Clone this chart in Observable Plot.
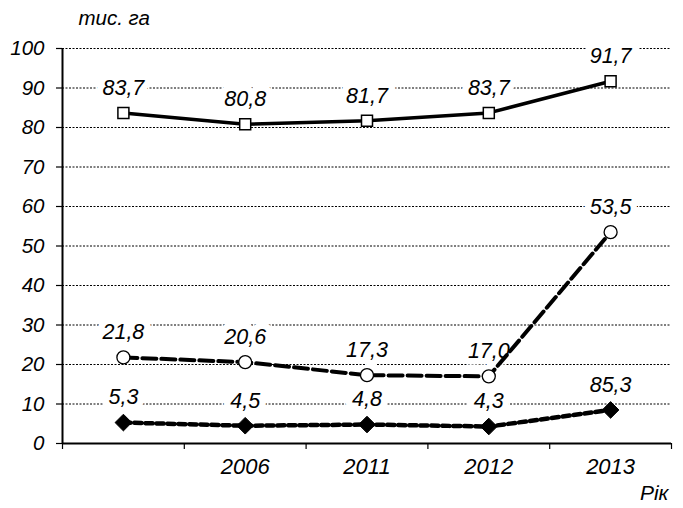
<!DOCTYPE html>
<html>
<head>
<meta charset="utf-8">
<script src="https://cdn.jsdelivr.net/npm/d3@7"></script>
<script src="https://cdn.jsdelivr.net/npm/@observablehq/plot@0.6"></script>
<style>
  html, body { margin: 0; padding: 0; background: white; }
</style>
</head>
<body>
<div id="chart"></div>
<script>
// Categories (first one has no label in the original)
const categories = ["", "2006", "2011", "2012", "2013"];

// Series values
const seriesA = [83.7, 80.8, 81.7, 83.7, 91.7];       // solid line, squares
const seriesB = [21.8, 20.6, 17.3, 17.0, 53.5];       // long dashes, circles
const seriesC = [5.3, 4.5, 4.8, 4.3, 8.5];            // short dashes, diamonds

// Data labels as printed in the original
const labelsA = ["83,7", "80,8", "81,7", "83,7", "91,7"];
const labelsB = ["21,8", "20,6", "17,3", "17,0", "53,5"];
const labelsC = ["5,3", "4,5", "4,8", "4,3", "85,3"];

// Y ticks
const yTicks = [0, 10, 20, 30, 40, 50, 60, 70, 80, 90, 100];

const toRows = (vals, labels) => vals.map((v, i) => ({x: i + 0.5, y: v, label: labels[i]}));
const rowsA = toRows(seriesA, labelsA);
const rowsB = toRows(seriesB, labelsB);
const rowsC = toRows(seriesC, labelsC);

const centers = categories.map((_, i) => i + 0.5);
const bounds = d3.range(0, categories.length + 1);

const labelStyle = {x: "x", y: "y", text: "label", dy: -25, fontSize: 21.5, fill: "black", stroke: "white", strokeWidth: 13, strokeLinejoin: "round"};

const chart = Plot.plot({
  width: 683,
  height: 508,
  marginLeft: 62,
  marginRight: 12,
  marginTop: 48,
  marginBottom: 65,
  style: {fontFamily: "'Liberation Sans', Arial, sans-serif", fontStyle: "italic", fontSize: "20px", background: "white", color: "black"},
  x: {domain: [0, categories.length], axis: null},
  y: {domain: [0, 100], axis: null},
  marks: [
    Plot.gridY(yTicks.filter(d => d > 0), {stroke: "black", strokeOpacity: 1, strokeWidth: 1, strokeDasharray: "2,1.5"}),
    Plot.axisY({ticks: yTicks, tickSize: 6, tickPadding: 12, stroke: "black", strokeWidth: 1.2, fontSize: 20.5, label: null}),
    Plot.axisX({ticks: bounds, tickSize: 6, tickFormat: () => "", stroke: "black", strokeWidth: 1.2, label: null}),
    Plot.axisX({ticks: centers, tickSize: 0, tickPadding: 15, tickFormat: d => categories[Math.floor(d)], fontSize: 22, label: null}),
    Plot.ruleX([0], {stroke: "black", strokeWidth: 2}),
    Plot.ruleY([0], {stroke: "black", strokeWidth: 2}),
    Plot.text(rowsA, labelStyle),
    Plot.text(rowsB, labelStyle),
    Plot.text(rowsC, labelStyle),
    Plot.line(rowsA, {x: "x", y: "y", stroke: "black", strokeWidth: 3.5}),
    Plot.line(rowsB, {x: "x", y: "y", stroke: "black", strokeWidth: 4, strokeDasharray: "14,5"}),
    Plot.line(rowsC, {x: "x", y: "y", stroke: "black", strokeWidth: 4.5, strokeDasharray: "7,4"}),
    Plot.dot(rowsA, {x: "x", y: "y", symbol: "square", r: 6.2, fill: "white", stroke: "black", strokeWidth: 1.5}),
    Plot.dot(rowsB, {x: "x", y: "y", symbol: "circle", r: 6.5, fill: "white", stroke: "black", strokeWidth: 1.3}),
    Plot.dot(rowsC, {x: "x", y: "y", symbol: "diamond2", r: 7.5, fill: "black", stroke: "black", strokeWidth: 1}),
    Plot.text(["тис. га"], {frameAnchor: "top-left", dx: 16, dy: -30, textAnchor: "start", lineAnchor: "middle", fontSize: 20.5}),
    Plot.text(["Рік"], {frameAnchor: "bottom-right", dx: -3, dy: 50, textAnchor: "end", lineAnchor: "middle", fontSize: 21})
  ]
});

document.getElementById("chart").appendChild(chart);
</script>
</body>
</html>
